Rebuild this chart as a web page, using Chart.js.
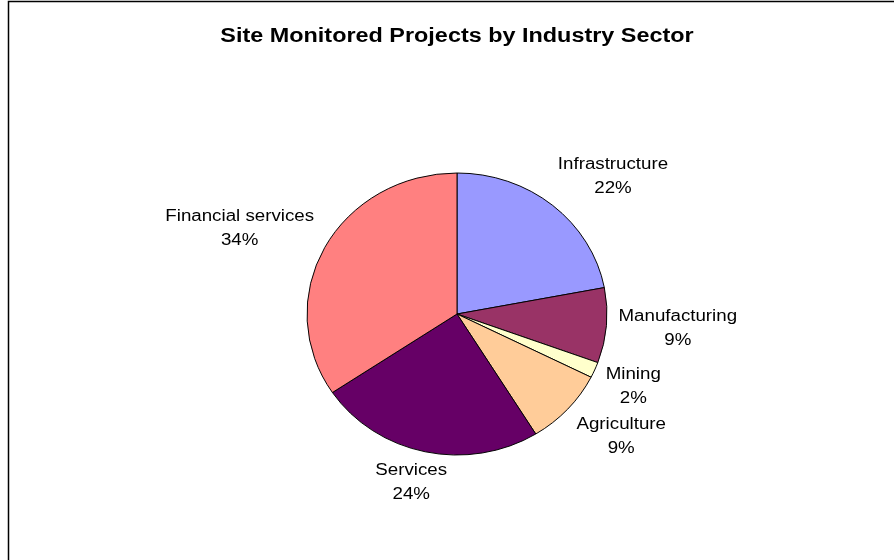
<!DOCTYPE html>
<html>
<head>
<meta charset="utf-8">
<script src="https://cdn.jsdelivr.net/npm/chart.js@4/dist/chart.umd.min.js"></script>
<style>
    html, body { margin: 0; padding: 0; background: #fff; }
    #wrap { width: 894px; height: 560px; position: relative; }
</style>
</head>
<body>
<div id="wrap"><canvas id="pieChart"></canvas></div>
<script>
// sectors, clockwise from 12 o'clock
const sectors = ["Infrastructure", "Manufacturing", "Mining", "Agriculture", "Services", "Financial services"];
const shares  = [22.0, 8.6, 1.8, 8.8, 24.4, 34.4];
const colours = ["#9999FF", "#993366", "#FFFFCC", "#FFCC99", "#660066", "#FF8080"];
const chartTitle = "Site Monitored Projects by Industry Sector";

const FONT = "Arial, 'Liberation Sans', sans-serif";
const SQUASH  = 0.94;  // pie in the picture is slightly flatter than round
const STRETCH = 1.17;  // text in the picture is a little wider than normal

// thin frame on the left and top edge
const framePlugin = {
    id: "frame",
    beforeDraw(chart) {
        const ctx = chart.ctx;
        ctx.save();
        ctx.strokeStyle = "#000";
        ctx.lineWidth = 1.5;
        ctx.beginPath();
        ctx.moveTo(8.5, chart.height);
        ctx.lineTo(8.5, 1.5);
        ctx.lineTo(chart.width, 1.5);
        ctx.stroke();
        ctx.restore();
    }
};

// squash the arcs vertically around the pie centre
const squashPlugin = {
    id: "squash",
    beforeDatasetsDraw(chart) {
        const arc = chart.getDatasetMeta(0).data[0];
        const ctx = chart.ctx;
        ctx.save();
        ctx.translate(arc.x, arc.y);
        ctx.scale(1, SQUASH);
        ctx.translate(-arc.x, -arc.y);
    },
    afterDatasetsDraw(chart) {
        chart.ctx.restore();
    }
};

// draw a line of text, stretched sideways around its centre
function wideText(ctx, text, x, y) {
    ctx.save();
    ctx.translate(x, y);
    ctx.scale(STRETCH, 1);
    ctx.fillText(text, 0, 0);
    ctx.restore();
}

// title + "Name / nn%" labels just outside each slice
const labelPlugin = {
    id: "sliceLabels",
    afterDraw(chart) {
        const ctx = chart.ctx;
        const clamp = v => Math.max(-1, Math.min(1, v * 1.5));
        ctx.save();
        ctx.fillStyle = "#000";
        ctx.textAlign = "center";
        ctx.textBaseline = "middle";

        ctx.font = "bold 20px " + FONT;
        wideText(ctx, chartTitle, (chart.chartArea.left + chart.chartArea.right) / 2, 36);

        ctx.font = "16px " + FONT;
        chart.getDatasetMeta(0).data.forEach((arc, i) => {
            const mid = (arc.startAngle + arc.endAngle) / 2;
            const r = arc.outerRadius + 12;
            const px = arc.x + r * Math.cos(mid);
            const py = arc.y + r * SQUASH * Math.sin(mid);
            const line1 = sectors[i];
            const line2 = Math.round(shares[i]) + "%";
            const w = STRETCH * Math.max(ctx.measureText(line1).width, ctx.measureText(line2).width);
            const h = 40;
            const cx = px + (w / 2) * clamp(Math.cos(mid));
            const cy = py + (h / 2) * clamp(Math.sin(mid));
            wideText(ctx, line1, cx, cy - 12);
            wideText(ctx, line2, cx, cy + 12);
        });
        ctx.restore();
    }
};

const ctx = document.getElementById("pieChart").getContext("2d");
const pieChart = new Chart(ctx, {
    type: "pie",
    data: {
        labels: sectors,
        datasets: [{
            data: shares,
            backgroundColor: colours,
            borderColor: "#000",
            borderWidth: 1,
            hoverOffset: 0
        }]
    },
    options: {
        responsive: true,
        maintainAspectRatio: false,
        animation: false,
        radius: 150,
        layout: { padding: { left: 20, right: 0, top: 68, bottom: 0 } },
        plugins: {
            legend: { display: false },
            tooltip: { enabled: false },
            title: { display: false }
        }
    },
    plugins: [framePlugin, squashPlugin, labelPlugin]
});
</script>
</body>
</html>
